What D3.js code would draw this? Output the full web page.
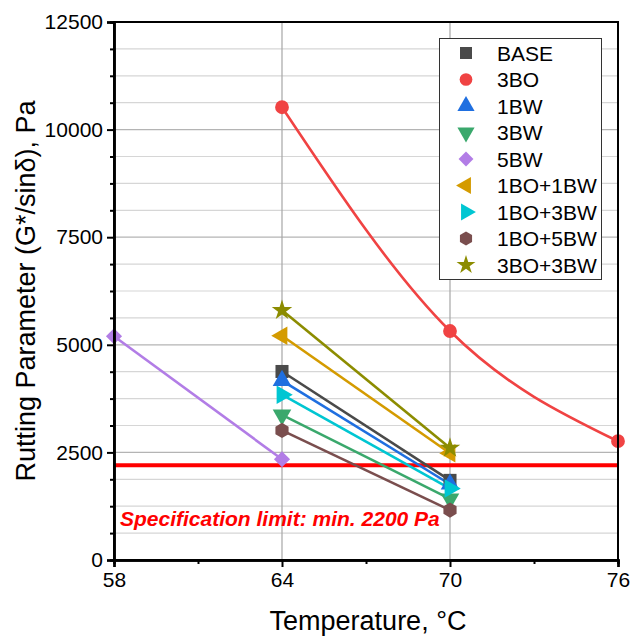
<!DOCTYPE html>
<html>
<head>
<meta charset="utf-8">
<script src="https://cdn.jsdelivr.net/npm/d3@7"></script>
<style>
  body { margin: 0; background: #fff; }
  text { font-family: "Liberation Sans", Arial, sans-serif; }
</style>
</head>
<body>
<div id="chart"></div>
<script>
// data
var series = ["BASE", "3BO", "1BW", "3BW", "5BW", "1BO+1BW", "1BO+3BW", "1BO+5BW", "3BO+3BW"];
var temps = {
  "BASE": [64, 70],
  "3BO": [64, 70, 76],
  "1BW": [64, 70],
  "3BW": [64, 70],
  "5BW": [58, 64],
  "1BO+1BW": [64, 70],
  "1BO+3BW": [64, 70],
  "1BO+5BW": [64, 70],
  "3BO+3BW": [64, 70]
};
var values = {
  "BASE": [4380, 1850],
  "3BO": [10520, 5320, 2760],
  "1BW": [4170, 1760],
  "3BW": [3370, 1420],
  "5BW": [5200, 2340],
  "1BO+1BW": [5210, 2480],
  "1BO+3BW": [3840, 1660],
  "1BO+5BW": [3010, 1160],
  "3BO+3BW": [5800, 2600]
};
var colors = ["#4a4a4a", "#f04343", "#1f6fe0", "#3aa86c", "#b27de6", "#d49b00", "#00c6d2", "#7a4e4e", "#8c8c00"];
var specLimit = 2200;
var xTicks = [58, 64, 70, 76];
var yTicks = [0, 2500, 5000, 7500, 10000, 12500];

var W = 633, H = 636;
var margin = {top: 22, right: 15, bottom: 76, left: 114},
    width = W - margin.left - margin.right,
    height = H - margin.top - margin.bottom;

var svg = d3.select("#chart")
  .append("svg")
    .attr("width", W)
    .attr("height", H);

var x = d3.scaleLinear().domain([58, 76]).range([margin.left, margin.left + width]);
var y = d3.scaleLinear().domain([0, 12500]).range([margin.top + height, margin.top]);

// grid
var minorY = d3.range(0, 12501, 625).filter(d => d % 2500 !== 0);
svg.append("g").selectAll("line.minor")
  .data(minorY).join("line")
    .attr("x1", x(58)).attr("x2", x(76))
    .attr("y1", d => y(d)).attr("y2", d => y(d))
    .attr("stroke", "#d6d6d6").attr("stroke-width", 1.2);
svg.append("g").selectAll("line.major")
  .data(yTicks.slice(1, -1)).join("line")
    .attr("x1", x(58)).attr("x2", x(76))
    .attr("y1", d => y(d)).attr("y2", d => y(d))
    .attr("stroke", "#b4b4b4").attr("stroke-width", 1.2);
svg.append("g").selectAll("line.vgrid")
  .data(xTicks.slice(1, -1)).join("line")
    .attr("x1", d => x(d)).attr("x2", d => x(d))
    .attr("y1", y(0)).attr("y2", y(12500))
    .attr("stroke", "#a6a6a6").attr("stroke-width", 1.2);

// spec limit line
svg.append("line")
  .attr("x1", x(58)).attr("x2", x(76))
  .attr("y1", y(specLimit)).attr("y2", y(specLimit))
  .attr("stroke", "#ff0000").attr("stroke-width", 4);

svg.append("text")
  .attr("x", 120).attr("y", 526)
  .attr("fill", "#ff0000")
  .style("font-size", "21px").style("font-weight", "bold").style("font-style", "italic")
  .text("Specification limit: min. " + specLimit + " Pa");

// custom hexagon symbol
var symbolHexagon = {
  draw: function(ctx, size) {
    var r = Math.sqrt(size / (1.5 * Math.sqrt(3)));
    for (var i = 0; i < 6; i++) {
      var a = Math.PI / 3 * i - Math.PI / 2;
      if (i === 0) ctx.moveTo(r * Math.cos(a), r * Math.sin(a));
      else ctx.lineTo(r * Math.cos(a), r * Math.sin(a));
    }
    ctx.closePath();
  }
};
var shapes = [
  {type: d3.symbolSquare, size: 170, rot: 0},
  {type: d3.symbolCircle, size: 150, rot: 0},
  {type: d3.symbolTriangle, size: 150, rot: 0},
  {type: d3.symbolTriangle, size: 150, rot: 180},
  {type: d3.symbolSquare, size: 130, rot: 45},
  {type: d3.symbolTriangle, size: 150, rot: -90},
  {type: d3.symbolTriangle, size: 150, rot: 90},
  {type: symbolHexagon, size: 150, rot: 0},
  {type: d3.symbolStar, size: 130, rot: 0}
];

// lines
var line = d3.line().x(d => x(d[0])).y(d => y(d[1]));
series.forEach(function(s, i) {
  var pts = temps[s].map((t, j) => [t, values[s][j]]);
  svg.append("path")
    .datum(pts)
    .attr("fill", "none")
    .attr("stroke", colors[i])
    .attr("stroke-width", 2.6)
    .attr("d", s === "3BO" ? line.curve(d3.curveNatural)(pts) : line.curve(d3.curveLinear)(pts));
});
// markers
series.forEach(function(s, i) {
  var pts = temps[s].map((t, j) => [t, values[s][j]]);
  svg.append("g").selectAll("path")
    .data(pts).join("path")
      .attr("transform", d => "translate(" + x(d[0]) + "," + y(d[1]) + ") rotate(" + shapes[i].rot + ")")
      .attr("d", d3.symbol().type(shapes[i].type).size(shapes[i].size))
      .attr("fill", colors[i]);
});

// frame
svg.append("rect")
  .attr("x", x(58)).attr("y", y(12500))
  .attr("width", x(76) - x(58)).attr("height", y(0) - y(12500))
  .attr("fill", "none").attr("stroke", "#000").attr("stroke-width", 2);

// axes
svg.append("g")
  .attr("transform", "translate(0," + y(0) + ")")
  .call(d3.axisBottom(x).tickValues(xTicks).tickSize(7).tickPadding(5).tickFormat(d3.format("d")));
svg.append("g")
  .attr("transform", "translate(0," + y(0) + ")")
  .call(d3.axisBottom(x).tickValues([61, 67, 73]).tickSize(4).tickFormat(""));
svg.append("g")
  .attr("transform", "translate(" + x(58) + ",0)")
  .call(d3.axisLeft(y).tickValues(yTicks).tickSize(7).tickPadding(4).tickFormat(d3.format("d")));
svg.append("g")
  .attr("transform", "translate(" + x(58) + ",0)")
  .call(d3.axisLeft(y).tickValues(minorY).tickSize(4).tickFormat(""));
svg.selectAll(".domain").attr("stroke", "#000").attr("stroke-width", 2.5);
svg.selectAll(".tick line").attr("stroke", "#000").attr("stroke-width", 2);
svg.selectAll(".tick text")
  .style("font-family", "'Liberation Sans', Arial, sans-serif")
  .style("font-size", "21px").attr("fill", "#000");

// axis titles
svg.append("text")
  .attr("x", 368).attr("y", 630)
  .attr("text-anchor", "middle")
  .style("font-size", "27px")
  .text("Temperature, \u00B0C");
svg.append("text")
  .attr("transform", "translate(35,291) rotate(-90)")
  .attr("text-anchor", "middle")
  .style("font-size", "27px")
  .text("Rutting Parameter (G*/sin\u03B4), Pa");

// legend
var legend = svg.append("g");
legend.append("rect")
  .attr("x", 439.5).attr("y", 38.5)
  .attr("width", 162).attr("height", 241)
  .attr("fill", "#fff").attr("stroke", "#333").attr("stroke-width", 1);
series.forEach(function(s, i) {
  var ly = 53 + i * 26.5;
  legend.append("path")
    .attr("transform", "translate(466," + ly + ") rotate(" + shapes[i].rot + ")")
    .attr("d", d3.symbol().type(shapes[i].type).size(shapes[i].size * 0.85))
    .attr("fill", colors[i]);
  legend.append("text")
    .attr("x", 497).attr("y", ly + 7.5)
    .style("font-size", "21px")
    .text(s);
});
</script>
</body>
</html>
